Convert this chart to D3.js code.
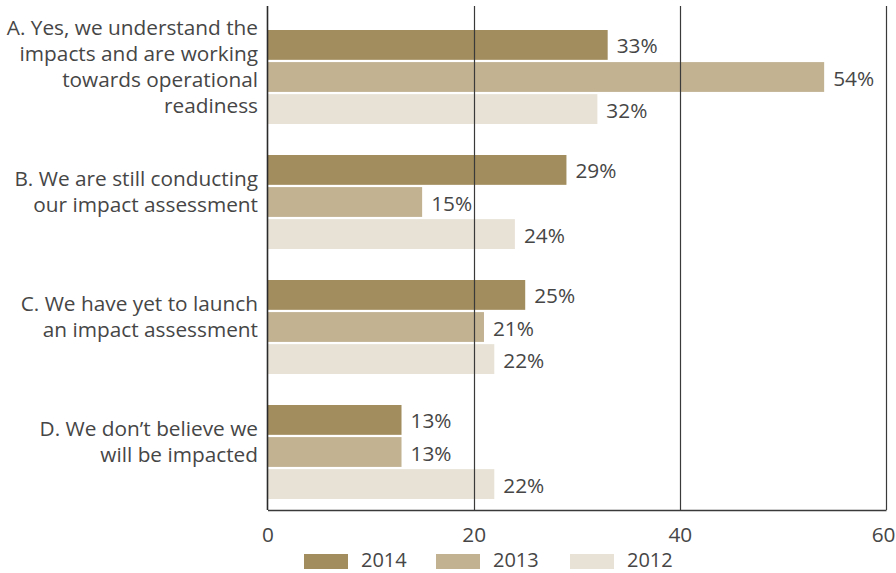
<!DOCTYPE html>
<html>
<head>
<meta charset="utf-8">
<script src="https://cdn.jsdelivr.net/npm/d3@7"></script>
<style>
  html, body { margin: 0; padding: 0; background: #fff; }
  svg { display: block; }
  text { font-family: "Open Sans", Roboto, sans-serif; fill: #464646; }
</style>
</head>
<body>
<svg id="chart" width="896" height="573"></svg>
<script>
// Survey answers (wrapped into display lines) and share of respondents per year
const categories = ["A", "B", "C", "D"];
const categoryLines = [
  ["A. Yes, we understand the", "impacts and are working", "towards operational", "readiness"],
  ["B. We are still conducting", "our impact assessment"],
  ["C. We have yet to launch", "an impact assessment"],
  ["D. We don\u2019t believe we", "will be impacted"]
];
const years = ["2014", "2013", "2012"];
const values2014 = [33, 29, 25, 13];
const values2013 = [54, 15, 21, 13];
const values2012 = [32, 24, 22, 22];
const tickValues = [0, 20, 40, 60];
const colors = ["#a18d5d", "#c2b292", "#e8e2d6"];

const seriesValues = [values2014, values2013, values2012];
const rows = categories.map((c, i) => ({
  key: c,
  lines: categoryLines[i],
  bars: years.map((y, j) => ({ year: y, value: seriesValues[j][i], color: colors[j] }))
}));

const svg = d3.select("#chart");
const plotTop = 6, plotBottom = 510;
const fontFamily = "'Open Sans', Roboto, sans-serif";
const fontSize = 20.8;

const x = d3.scaleLinear().domain([0, 60]).range([267.5, 886]);
const y0 = d3.scaleBand().domain(categories).range([30, 499]).paddingInner(0.248).paddingOuter(0);
const y1 = d3.scaleBand().domain(years).range([0, y0.bandwidth()]).paddingInner(0.07);

// Bars
const groups = svg.append("g").selectAll("g").data(rows).join("g")
  .attr("transform", d => `translate(0,${y0(d.key)})`);

groups.selectAll("rect").data(d => d.bars).join("rect")
  .attr("x", x(0))
  .attr("y", d => y1(d.year))
  .attr("width", d => x(d.value) - x(0))
  .attr("height", y1.bandwidth())
  .attr("fill", d => d.color);

// Value labels
groups.selectAll("text.val").data(d => d.bars).join("text")
  .attr("class", "val")
  .attr("x", d => x(d.value) + 9)
  .attr("y", d => y1(d.year) + y1.bandwidth() / 2 + 8.5)
  .attr("font-size", fontSize)
  .text(d => d.value + "%");

// Vertical gridlines at ticks (drawn above bars)
svg.append("g").selectAll("line").data(tickValues.filter(t => t > 0)).join("line")
  .attr("x1", d => Math.round(x(d)) + 0.5)
  .attr("x2", d => Math.round(x(d)) + 0.5)
  .attr("y1", plotTop)
  .attr("y2", plotBottom)
  .attr("stroke", "#3a3a3a")
  .attr("stroke-width", 1.2);

// Bottom axis
const xAxis = d3.axisBottom(x).tickValues(tickValues).tickSize(0).tickPadding(17);
const gx = svg.append("g").attr("transform", `translate(0,${plotBottom})`).call(xAxis);
gx.select(".domain").attr("stroke", "#3a3a3a").attr("stroke-width", 1.4);
gx.selectAll("text").attr("font-size", fontSize).attr("fill", "#464646")
  .style("font-family", fontFamily);
// keep the last tick label inside the right edge
gx.selectAll(".tick text").filter(d => d === d3.max(tickValues))
  .attr("text-anchor", "end").attr("dx", 0).attr("x", 895 - x(d3.max(tickValues)));

// Left axis line
svg.append("line")
  .attr("x1", x(0)).attr("x2", x(0))
  .attr("y1", plotTop).attr("y2", plotBottom)
  .attr("stroke", "#2a2a2a").attr("stroke-width", 1.6);

// Category labels, right-aligned beside the axis
const lineH = 25.7;
svg.append("g").selectAll("text").data(rows).join("text")
  .attr("text-anchor", "end")
  .attr("font-size", fontSize)
  .each(function (d) {
    const mid = y0(d.key) + y0.bandwidth() / 2 - 3;
    const first = mid - (d.lines.length - 1) * lineH / 2;
    d3.select(this).selectAll("tspan").data(d.lines).join("tspan")
      .attr("x", 258)
      .attr("y", (l, i) => first + i * lineH)
      .text(l => l);
  });

// Legend
const legendX = [304, 436, 570];
const legend = svg.append("g").selectAll("g").data(years).join("g")
  .attr("transform", (d, i) => `translate(${legendX[i]},554)`);
legend.append("rect").attr("width", 44).attr("height", 15).attr("fill", (d, i) => colors[i]);
legend.append("text").attr("x", 57).attr("y", 13).attr("font-size", 20).text(d => d);
</script>
</body>
</html>
